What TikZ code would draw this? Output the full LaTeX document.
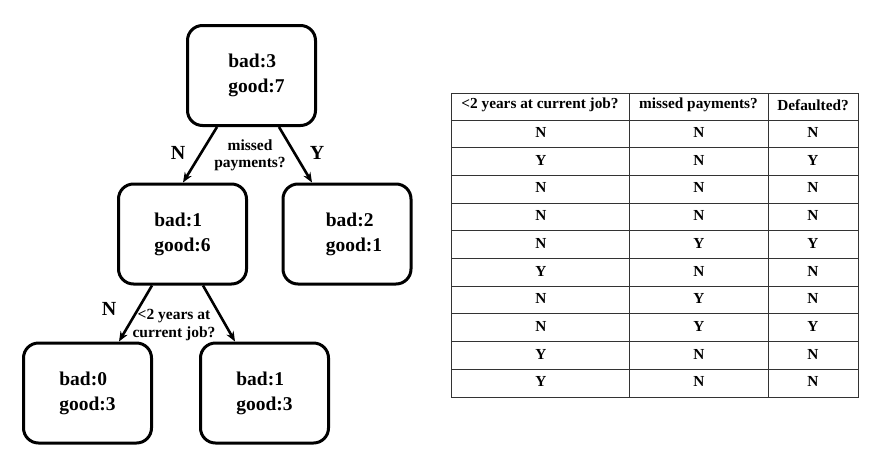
\documentclass[tikz,border=0pt]{standalone}
\usepackage{fontspec}
\setmainfont{Liberation Serif}
\usetikzlibrary{arrows.meta}
\begin{document}
\begin{tikzpicture}[x=1pt,y=-1pt,
  treebox/.style={draw, line width=3pt, rounded corners=15pt, minimum width=128pt, minimum height=100pt, align=left, inner sep=0pt, font=\fontsize{19.5}{25}\selectfont\bfseries},
  branch/.style={line width=2.6pt, -{Stealth[length=10pt,width=8pt]}},
  yn/.style={font=\fontsize{20}{22}\selectfont\bfseries, inner sep=0pt},
  question/.style={font=\fontsize{15.5}{17.5}\selectfont\bfseries, align=center, inner sep=0pt},
  tline/.style={line width=0.9pt, draw=black!80},
  cell/.style={font=\fontsize{15.3}{18}\selectfont\bfseries, inner sep=0pt}]
\useasboundingbox[fill=white] (0,0) rectangle (888,469);
% tree
\node[treebox] (root) at (251.5,75.5) {\hspace*{10pt}bad:3\\\hspace*{10pt}good:7};
\node[treebox] (l) at (182.5,234) {bad:1\\good:6};
\node[treebox] (r) at (347,234) {\hspace*{14pt}bad:2\\\hspace*{14pt}good:1};
\node[treebox] (ll) at (87.5,393) {bad:0\\good:3};
\node[treebox] (lr) at (264.5,393) {bad:1\\good:3};
\draw[branch] ([xshift=-34.5pt]root.south) -- ([xshift=0.5pt]l.north);
\draw[branch] ([xshift=27.5pt]root.south) -- ([xshift=-35pt]r.north);
\draw[branch] ([xshift=-30.5pt]l.south) -- ([xshift=31.5pt]ll.north);
\draw[branch] ([xshift=20.5pt]l.south) -- ([xshift=-29.5pt]lr.north);
\node[yn] (n1) at (178,153) {N};
\node[yn] (y1) at (317,153) {Y};
\node[yn] (n2) at (109,309) {N};
\node[question] (q1) at (250,155.5) {missed\\payments?};
\node[question] (q2) at (174,325) {<2 years at\\current job?};
% table
\draw[tline] (451,93) rectangle (858,397);
\draw[tline] (629,93) -- (629,397);
\draw[tline] (768,93) -- (768,397);
\foreach \k in {0,...,9} {
  \draw[tline] (451,{120+27.7*\k}) -- (858,{120+27.7*\k});
}
\node[cell] (h1) at (540,105) {<2 years at current job?};
\node[cell] (h2) at (698.5,105) {missed payments?};
\node[cell] (h3) at (813,105) {Defaulted?};
\foreach \a/\b/\c [count=\i from 0] in {N/N/N, Y/N/Y, N/N/N, N/N/N, N/Y/Y, Y/N/N, N/Y/N, N/Y/Y, Y/N/N, Y/N/N} {
  \node[cell] (a\i) at (541,{132.5+27.7*\i}) {\a};
  \node[cell] (b\i) at (699,{132.5+27.7*\i}) {\b};
  \node[cell] (c\i) at (813,{132.5+27.7*\i}) {\c};
}
\end{tikzpicture}
\end{document}
